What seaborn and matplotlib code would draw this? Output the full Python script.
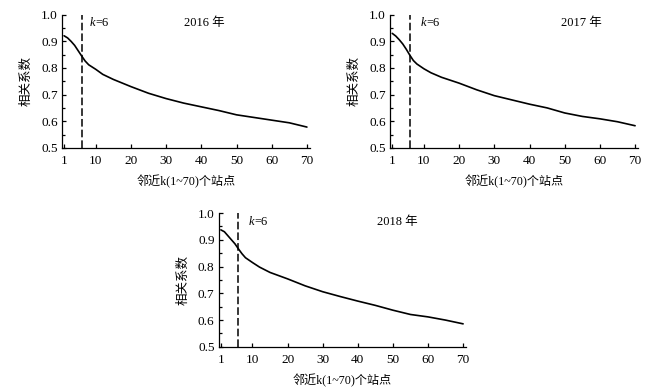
import numpy as np
import pandas as pd
import matplotlib
matplotlib.use("Agg")
import matplotlib.pyplot as plt
import matplotlib.transforms as mtransforms
from matplotlib.ticker import MultipleLocator, FormatStrFormatter
import seaborn as sns

# 邻近站点数 k 与相关系数
k_vals = [1, 2, 3, 4, 5, 6, 7, 8, 10, 12, 15, 20, 25, 30, 35, 40, 45, 50, 55, 60, 65, 70]
r_2016 = [0.921, 0.913, 0.900, 0.885, 0.865, 0.845, 0.826, 0.812, 0.795, 0.776, 0.757, 0.730,
          0.705, 0.685, 0.668, 0.654, 0.640, 0.624, 0.614, 0.604, 0.594, 0.578]
r_2017 = [0.930, 0.920, 0.906, 0.890, 0.870, 0.848, 0.828, 0.815, 0.797, 0.782, 0.765, 0.743,
          0.718, 0.696, 0.680, 0.664, 0.650, 0.631, 0.618, 0.609, 0.598, 0.583]
r_2018 = [0.937, 0.930, 0.915, 0.900, 0.885, 0.866, 0.848, 0.833, 0.815, 0.798, 0.778, 0.754,
          0.728, 0.706, 0.688, 0.671, 0.655, 0.637, 0.621, 0.612, 0.600, 0.586]
years = ["2016 年", "2017 年", "2018 年"]
k_cut = 6

sns.set_theme(style="ticks")
plt.rcParams['font.family'] = ['Liberation Serif', 'Noto Sans CJK SC']
plt.rcParams['xtick.direction'] = 'in'
plt.rcParams['ytick.direction'] = 'in'

fig = plt.figure(figsize=(6.59, 3.88), dpi=100)
boxes = [
    [0.094, 0.619, 0.376, 0.343],
    [0.592, 0.619, 0.376, 0.343],
    [0.332, 0.106, 0.375, 0.345],
]
year_x = [40.8, 54.6, 51.2]
kx = [8.4, 9.2, 8.9]

for i, (r, yr) in enumerate(zip([r_2016, r_2017, r_2018], years)):
    ax = fig.add_axes(boxes[i])
    df = pd.DataFrame({'k': k_vals, 'r': r})
    sns.lineplot(data=df, x='k', y='r', ax=ax, color='black', linewidth=1.2)
    ax.axvline(k_cut, color='black', linestyle=(0, (5, 2)), linewidth=1.1)
    ax.set_xlim(0.4, 70.8)
    ax.set_ylim(0.5, 1.0)
    ax.set_xticks([1, 10, 20, 30, 40, 50, 60, 70])
    ax.yaxis.set_major_locator(MultipleLocator(0.1))
    ax.yaxis.set_minor_locator(MultipleLocator(0.05))
    ax.yaxis.set_major_formatter(FormatStrFormatter('%.1f'))
    ax.tick_params(axis='both', which='major', length=3.2, width=0.9, labelsize=9.5,
                   color='black', labelcolor='black', pad=3)
    ax.tick_params(axis='x', which='major', pad=5)
    ax.tick_params(axis='y', which='minor', length=2, width=0.9, color='black')
    for s in ['top', 'right']:
        ax.spines[s].set_visible(False)
    for s in ['left', 'bottom']:
        ax.spines[s].set_linewidth(0.9)
        ax.spines[s].set_color('black')
    ax.set_xlabel('邻近k(1~70)个站点', fontsize=8.7, labelpad=6, color='black')
    ax.set_ylabel('相关系数', fontsize=9, labelpad=6, color='black')
    ax.text(year_x[i], 0.968, yr, fontsize=9, ha='center', va='center', color='black')
    ax.text(kx[i], 0.968, 'k', fontsize=9, style='italic', ha='left', va='center', color='black')
    off = mtransforms.offset_copy(ax.transData, fig=fig, x=4.0, y=0, units='points')
    ax.text(kx[i], 0.968, '=6', fontsize=9, ha='left', va='center', color='black', transform=off)

fig.savefig('out.png', dpi=100)
